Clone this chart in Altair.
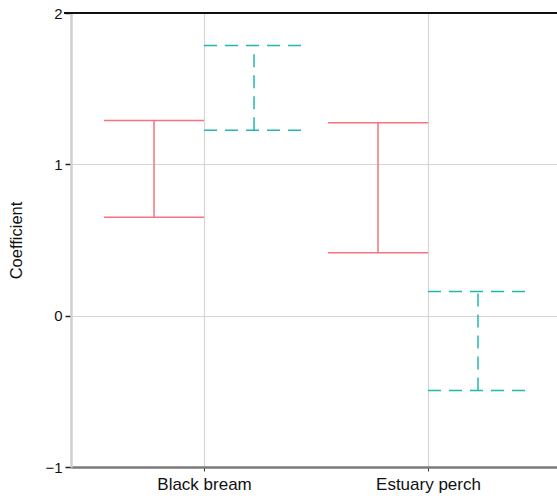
import altair as alt
import pandas as pd

species_list = ["Black bream", "Estuary perch"]
species = ["Black bream", "Black bream", "Estuary perch", "Estuary perch"]
group = ["solid", "dashed", "solid", "dashed"]
lower = [0.65, 1.225, 0.415, -0.495]
upper = [1.29, 1.785, 1.275, 0.16]

red = "#F5737F"
teal = "#22B8AE"

df = pd.DataFrame({"species": species, "group": group, "lo": lower, "hi": upper})

half = 0.2232
arr = "[" + ",".join("'" + s + "'" for s in species_list) + "]"

base = alt.Chart(df).transform_calculate(
    idx=f"indexof({arr}, datum.species)"
).transform_calculate(
    center=f"datum.idx + (datum.group == 'solid' ? -1 : 1) * {half}"
).transform_calculate(
    left=f"datum.center - {half}", right=f"datum.center + {half}"
)

xscale = alt.Scale(domain=[-0.594, 1.576], nice=False, zero=False)
yscale = alt.Scale(domain=[-1, 2], nice=False, zero=False)
color = alt.Color("group:N", scale=alt.Scale(domain=["solid", "dashed"], range=[red, teal]), legend=None)
dash = alt.StrokeDash("group:N", scale=alt.Scale(domain=["solid", "dashed"], range=[[1, 0], [13, 8]]), legend=None)

xaxis = alt.Axis(
    values=[0, 1], labelExpr=f"{arr}[datum.value]", title=None, labelAngle=0,
    grid=True, gridColor="#d6d6d6", gridWidth=1.2,
    domainColor="#7a7a7a", domainWidth=2.5, tickColor="#333333", tickSize=4,
    labelFontSize=17, labelColor="#111111", labelPadding=5, labelFont="Liberation Sans",
)
yaxis = alt.Axis(
    values=[-1, -0.5, 0, 0.5, 1, 1.5, 2], title="Coefficient", format="d",
    labelExpr="datum.value % 1 == 0 ? datum.label : ''",
    grid=True,
    gridColor={"condition": {"test": "datum.value % 1 != 0", "value": "#f6f4ef"}, "value": "#d6d6d6"},
    gridWidth=1.2,
    tickOpacity={"condition": {"test": "datum.value % 1 != 0", "value": 0}, "value": 1},
    domainColor="#cfcfcf", domainWidth=2.5, tickColor="#222222", tickSize=6, tickWidth=1.5,
    labelFontSize=15, labelColor="#111111", labelPadding=3, labelFont="Liberation Sans",
    titleFontSize=16.5, titleFontWeight="normal", titleColor="#111111", titleFont="Liberation Sans",
    titlePadding=20,
)

vert = base.mark_rule(strokeWidth=1.5).encode(
    x=alt.X("center:Q", scale=xscale, axis=xaxis),
    y=alt.Y("lo:Q", scale=yscale, axis=yaxis),
    y2="hi:Q",
    color=color, strokeDash=dash,
)
top = base.mark_rule(strokeWidth=1.5).encode(
    x=alt.X("left:Q", scale=xscale), x2="right:Q",
    y=alt.Y("hi:Q", scale=yscale), color=color, strokeDash=dash,
)
bottom = base.mark_rule(strokeWidth=1.5).encode(
    x=alt.X("left:Q", scale=xscale), x2="right:Q",
    y=alt.Y("lo:Q", scale=yscale), color=color, strokeDash=dash,
)
topline = alt.Chart(df).mark_rule(color="#111111", strokeWidth=1.5).encode(
    x=alt.value(-7), x2=alt.value(486), y=alt.datum(2, scale=yscale)
)

chart = alt.layer(vert, top, bottom, topline).properties(
    width=486, height=454,
    autosize=alt.AutoSizeParams(type="none"),
    padding={"left": 71, "top": 13, "right": 0, "bottom": 29},
    background="white",
).configure_view(stroke=None)

chart.save("out.html", embed_options={"renderer": "svg", "actions": False})
